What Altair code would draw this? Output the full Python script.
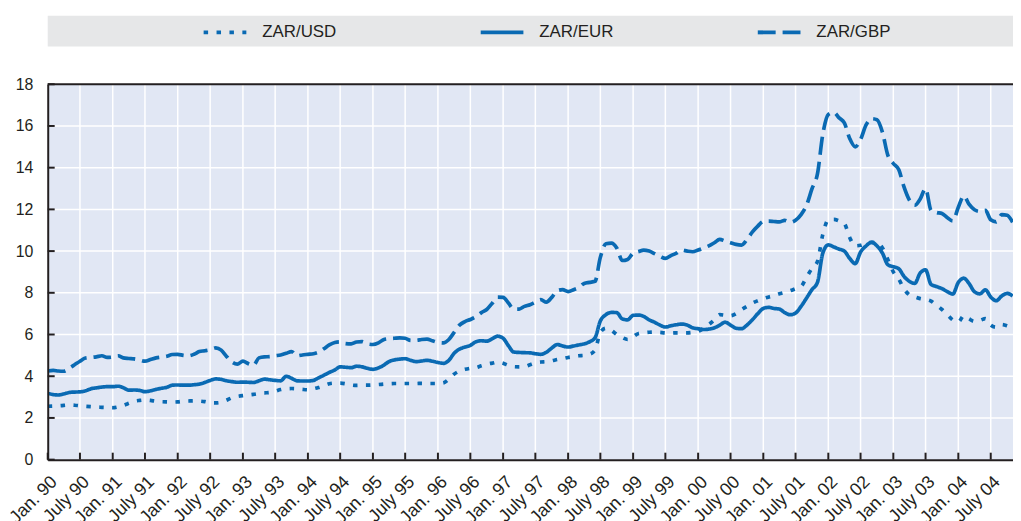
import altair as alt
import pandas as pd

# ---------------- data (monthly, Jan 1990 - Nov 2004) ----------------
series_names = ["ZAR/USD", "ZAR/EUR", "ZAR/GBP"]

usd = [
    2.56, 2.57, 2.58, 2.60, 2.62, 2.61, 2.58, 2.56, 2.54, 2.52, 2.51, 2.50,   # 1990
    2.49, 2.53, 2.60, 2.70, 2.80, 2.84, 2.86, 2.84, 2.80, 2.78, 2.77, 2.76,   # 1991
    2.77, 2.80, 2.81, 2.82, 2.81, 2.78, 2.73, 2.72, 2.75, 2.85, 2.97, 3.03,   # 1992
    3.07, 3.10, 3.13, 3.17, 3.20, 3.22, 3.28, 3.36, 3.40, 3.41, 3.40, 3.37,   # 1993
    3.35, 3.40, 3.46, 3.55, 3.64, 3.67, 3.67, 3.64, 3.58, 3.56, 3.57, 3.57,   # 1994
    3.58, 3.60, 3.62, 3.64, 3.65, 3.65, 3.65, 3.65, 3.65, 3.66, 3.65, 3.65,   # 1995
    3.65, 3.68, 3.85, 4.10, 4.25, 4.33, 4.38, 4.41, 4.50, 4.58, 4.63, 4.68,   # 1996
    4.62, 4.52, 4.46, 4.45, 4.46, 4.55, 4.64, 4.68, 4.70, 4.74, 4.80, 4.84,   # 1997
    4.90, 4.94, 4.98, 5.00, 5.05, 5.25, 6.10, 6.30, 6.20, 6.00, 5.85, 5.76,   # 1998
    5.90, 6.05, 6.08, 6.11, 6.12, 6.10, 6.08, 6.07, 6.08, 6.08, 6.08, 6.10,   # 1999
    6.15, 6.30, 6.48, 6.70, 6.95, 6.92, 6.90, 7.00, 7.19, 7.35, 7.51, 7.62,   # 2000
    7.72, 7.80, 7.86, 7.95, 8.02, 8.10, 8.20, 8.30, 8.75, 9.17, 9.50, 10.80,  # 2001
    11.50, 11.52, 11.45, 11.32, 10.65, 10.25, 10.28, 10.37, 10.42, 10.42, 10.15, 9.60,  # 2002
    9.00, 8.65, 8.20, 7.90, 7.80, 7.72, 7.68, 7.60, 7.40, 7.20, 6.95, 6.70,   # 2003
    6.60, 6.90, 6.75, 6.63, 6.68, 6.76, 6.45, 6.35, 6.48, 6.42, 6.30,         # 2004
]

eur = [
    3.18, 3.12, 3.10, 3.15, 3.22, 3.24, 3.25, 3.30, 3.40, 3.44, 3.48, 3.50,   # 1990
    3.50, 3.52, 3.45, 3.33, 3.34, 3.32, 3.26, 3.30, 3.37, 3.42, 3.47, 3.57,   # 1991
    3.58, 3.57, 3.57, 3.59, 3.62, 3.70, 3.80, 3.87, 3.85, 3.78, 3.74, 3.71,   # 1992
    3.72, 3.71, 3.70, 3.78, 3.86, 3.83, 3.80, 3.78, 4.00, 3.90, 3.78, 3.77,   # 1993
    3.77, 3.80, 3.92, 4.05, 4.18, 4.30, 4.45, 4.43, 4.41, 4.48, 4.45, 4.38,   # 1994
    4.33, 4.40, 4.52, 4.70, 4.78, 4.82, 4.84, 4.76, 4.70, 4.73, 4.76, 4.72,   # 1995
    4.66, 4.62, 4.75, 5.10, 5.30, 5.40, 5.48, 5.65, 5.70, 5.68, 5.80, 5.92,   # 1996
    5.82, 5.45, 5.16, 5.14, 5.13, 5.12, 5.08, 5.05, 5.15, 5.35, 5.52, 5.45,   # 1997
    5.40, 5.45, 5.50, 5.55, 5.65, 5.84, 6.65, 6.95, 7.06, 7.05, 6.75, 6.70,   # 1998
    6.92, 6.93, 6.87, 6.70, 6.59, 6.45, 6.36, 6.42, 6.47, 6.50, 6.45, 6.32,   # 1999
    6.28, 6.24, 6.26, 6.32, 6.45, 6.59, 6.45, 6.30, 6.28, 6.45, 6.71, 7.00,   # 2000
    7.25, 7.30, 7.25, 7.22, 7.05, 6.95, 7.03, 7.35, 7.75, 8.15, 8.50, 9.90,   # 2001
    10.30, 10.20, 10.10, 10.00, 9.65, 9.40, 9.95, 10.25, 10.42, 10.25, 9.90, 9.35,  # 2002
    9.25, 9.15, 8.80, 8.55, 8.45, 8.95, 9.10, 8.40, 8.30, 8.20, 8.05, 7.94,   # 2003
    8.50, 8.70, 8.45, 8.05, 7.95, 8.14, 7.80, 7.62, 7.85, 7.97, 7.85,         # 2004
]

gbp = [
    4.25, 4.28, 4.25, 4.24, 4.38, 4.55, 4.72, 4.87, 4.90, 4.93, 4.98, 4.90,   # 1990
    4.92, 4.98, 4.88, 4.85, 4.83, 4.78, 4.72, 4.80, 4.88, 4.92, 4.96, 5.04,   # 1991
    5.05, 5.00, 4.98, 5.05, 5.18, 5.22, 5.27, 5.36, 5.25, 4.95, 4.68, 4.58,   # 1992
    4.72, 4.60, 4.52, 4.88, 4.93, 4.94, 4.98, 5.02, 5.10, 5.18, 4.98, 5.02,   # 1993
    5.05, 5.08, 5.15, 5.32, 5.50, 5.62, 5.65, 5.56, 5.55, 5.64, 5.66, 5.55,   # 1994
    5.52, 5.60, 5.75, 5.80, 5.82, 5.84, 5.82, 5.72, 5.72, 5.76, 5.78, 5.70,   # 1995
    5.62, 5.60, 5.75, 6.10, 6.45, 6.62, 6.72, 6.85, 7.05, 7.20, 7.50, 7.79,   # 1996
    7.78, 7.50, 7.22, 7.22, 7.35, 7.43, 7.55, 7.67, 7.55, 7.78, 8.10, 8.15,   # 1997
    8.06, 8.15, 8.25, 8.45, 8.50, 8.55, 9.70, 10.35, 10.38, 10.15, 9.55, 9.60,  # 1998
    9.90, 9.98, 10.05, 10.00, 9.88, 9.75, 9.65, 9.78, 9.90, 10.05, 10.00, 9.97,  # 1999
    10.05, 10.15, 10.25, 10.40, 10.56, 10.48, 10.40, 10.32, 10.29, 10.55, 10.92, 11.20,  # 2000
    11.42, 11.44, 11.42, 11.40, 11.47, 11.38, 11.48, 11.75, 12.20, 12.98, 13.70, 15.60,  # 2001
    16.55, 16.65, 16.40, 16.15, 15.40, 15.00, 15.35, 16.05, 16.35, 16.30, 15.70, 14.60,  # 2002
    14.20, 13.90, 13.10, 12.45, 12.20, 12.50, 13.00, 11.95, 11.85, 11.80, 11.60, 11.45,  # 2003
    12.10, 12.65, 12.25, 11.98, 11.90, 11.95, 11.50, 11.40, 11.75, 11.72, 11.38,         # 2004
]

y_tick_values = [0, 2, 4, 6, 8, 10, 12, 14, 16, 18]
x_tick_dates = pd.date_range("1990-01-01", "2004-07-01", freq="6MS")

# ---------------- table ----------------
months = pd.date_range("1990-01-01", periods=len(usd), freq="MS")
frames = []
for name, vals in zip(series_names, [usd, eur, gbp]):
    frames.append(pd.DataFrame({"date": months, "series": name, "value": vals}))
df = pd.concat(frames, ignore_index=True)

xt = pd.DataFrame({"date": x_tick_dates})
xg = pd.DataFrame({"date": x_tick_dates[1:]})
yt = pd.DataFrame({"value": y_tick_values})
yg = pd.DataFrame({"value": y_tick_values[1:-1]})
one = pd.DataFrame({"k": [0]})

# ---------------- style ----------------
W, H = 972, 378
BLUE = "#0a6ab3"
DARK = "#231f20"
BG = "#e1e7f4"
LEGEND_BG = "#e6e7e8"
FONT = "Liberation Sans"

x_scale = alt.Scale(domain=[alt.DateTime(year=1990, month=1, date=1),
                            alt.DateTime(year=2004, month=11, date=3)])
y_scale = alt.Scale(domain=[0, 18], nice=False, zero=True)

x_axis = alt.Axis(
    values=[alt.DateTime(year=d.year, month=d.month, date=1) for d in x_tick_dates],
    labelExpr="(month(datum.value) == 0 ? 'Jan. ' : 'July ') + timeFormat(datum.value, '%y')",
    labelAngle=315, labelAlign="right", labelBaseline="top", labelPadding=13,
    labelOverlap=False, ticks=False, tickSize=0, grid=False,
    domainColor=DARK, domainWidth=2, title=None,
    labelFontSize=18, labelFont=FONT, labelColor=DARK, zindex=1,
)
y_axis = alt.Axis(
    values=y_tick_values, ticks=False, tickSize=0, grid=False,
    domainColor=DARK, domainWidth=2, title=None, labelPadding=15,
    labelFontSize=16, labelFont=FONT, labelColor=DARK, zindex=1,
)

X = alt.X("date:T", scale=x_scale, axis=x_axis)
Y = alt.Y("value:Q", scale=y_scale, axis=y_axis)

legend_bg = alt.Chart(one).mark_rect(color=LEGEND_BG).encode(
    x=alt.value(0), x2=alt.value(W), y=alt.value(-69), y2=alt.value(-38)
)

grid_x = alt.Chart(xg).mark_rule(color="white", strokeWidth=1.5).encode(x=X)
grid_y = alt.Chart(yg).mark_rule(color="white", strokeWidth=1.5).encode(y=Y)

lines = alt.Chart(df).mark_line(
    color=BLUE, strokeWidth=3.7, interpolate="monotone", clip=True
).encode(
    x=X,
    y=Y,
    strokeDash=alt.StrokeDash(
        "series:N",
        scale=alt.Scale(domain=series_names, range=[[4.5, 8.5], [1, 0], [18, 7]]),
        legend=alt.Legend(
            title=None, orient="none", legendX=155, legendY=-76,
            direction="horizontal", symbolType="stroke", symbolSize=1849,
            symbolStrokeWidth=4, symbolStrokeColor=BLUE,
            labelFontSize=17, labelFont=FONT, labelColor=DARK,
            labelOffset=14, columnPadding=137, padding=0,
        ),
    ),
)

ticks_x = alt.Chart(xt).mark_rule(color=DARK, strokeWidth=2).encode(
    x=X, y=alt.value(H), y2=alt.value(H - 7),
)
ticks_y = alt.Chart(yt).mark_rule(color=DARK, strokeWidth=2).encode(
    y=Y, x=alt.value(0), x2=alt.value(7),
)
top_border = alt.Chart(one).mark_rule(color=DARK, strokeWidth=2).encode(
    x=alt.value(0), x2=alt.value(W), y=alt.value(0)
)

chart = alt.layer(
    legend_bg, grid_x, grid_y, lines, ticks_x, ticks_y, top_border
).properties(
    width=W, height=H,
    autosize=alt.AutoSizeParams(type="none"),
    padding={"left": 40, "top": 75, "right": 0, "bottom": 60},
    background="white",
).configure_view(
    fill=BG, stroke="transparent"
)

chart.save("out.html", embed_options={"renderer": "svg", "actions": False})
